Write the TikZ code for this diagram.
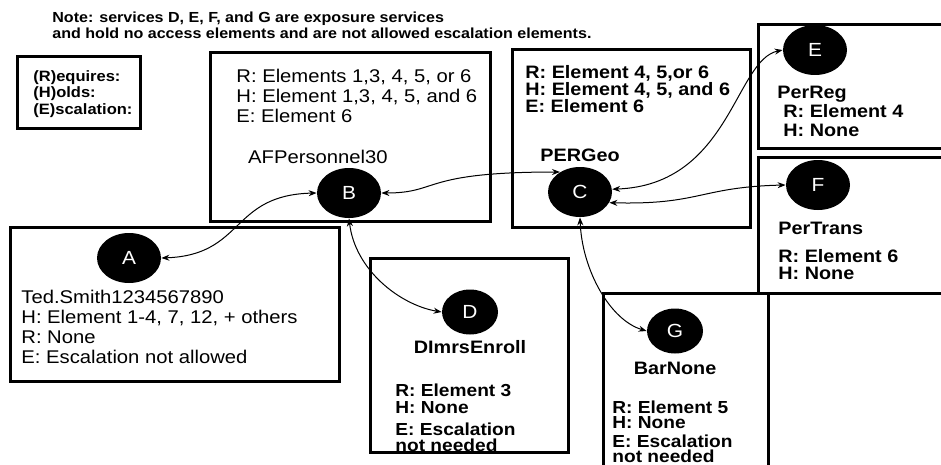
\documentclass[tikz,border=0pt]{standalone}
\usepackage{fontspec}
\setmainfont{Liberation Sans}[FakeStretch=1.1]
\usetikzlibrary{shapes.geometric,arrows.meta}
\begin{document}
\begin{tikzpicture}[x=.5pt,y=-.5pt,
  box/.style={line width=1.5pt},
  svc/.style={ellipse,fill=black,text=white,inner sep=0pt,minimum width=32pt,minimum height=25pt,font=\fontsize{9.5}{10}\selectfont},
  svcsmall/.style={svc,minimum width=28pt,minimum height=22.5pt},
  link/.style={<->,>={Stealth[length=4pt,width=3pt]},line width=.5pt},
  txt/.style={anchor=north west,inner sep=0pt,align=left,font=\fontsize{9.2}{9.9}\selectfont},
  btxt/.style={anchor=north west,inner sep=0pt,align=left,font=\bfseries\fontsize{9}{8.6}\selectfont},
  cname/.style={inner sep=0pt,font=\bfseries\fontsize{9}{10}\selectfont}]
\path[use as bounding box] (0,0) rectangle (941,465);
\begin{scope}
\clip (0,0) rectangle (941,465);
\draw[box] (17,57) rectangle (140,128);
\draw[box] (210,53) rectangle (490,221);
\draw[box] (512,50) rectangle (750,227);
\draw[box] (758,25) rectangle (950,148);
\draw[box] (758,157) rectangle (950,293);
\draw[box] (10,227) rectangle (339,381);
\draw[box] (370,258) rectangle (568,452);
\draw[box] (603,293) rectangle (768,480);
\end{scope}
\node[btxt,font=\bfseries\fontsize{7.3}{8}\selectfont] (note) at (52,12) {Note: services D, E, F, and G are exposure services\\and hold no access elements and are not allowed escalation elements.};
\node[btxt,font=\bfseries\fontsize{7.5}{8.3}\selectfont] (legend) at (33,70) {(R)equires:\\(H)olds:\\(E)scalation:};
\node[svc] (A) at (129,258) {A};
\node[svc] (B) at (349,193) {B};
\node[svc] (C) at (580,192) {C};
\node[svcsmall] (D) at (470,312) {D};
\node[svc] (E) at (815,50) {E};
\node[svc] (F) at (818,185) {F};
\node[svcsmall] (G) at (675,331) {G};
\node[txt] (Btext) at (236,69) {R: Elements 1,3, 4, 5, or 6\\H: Element 1,3, 4, 5, and 6\\E: Element 6};
\node[txt,anchor=center] (Bname) at (318,157) {AFPersonnel30};
\node[btxt] (Ctext) at (525,65) {R: Element 4, 5,or 6\\H: Element 4, 5, and 6\\E: Element 6};
\node[cname] (Cname) at (580,155) {PERGeo};
\node[btxt] (Ename) at (777,86) {PerReg};
\node[btxt,font=\bfseries\fontsize{9}{9.3}\selectfont] (Etext) at (783,104) {R: Element 4\\H: None};
\node[btxt] (Fname) at (778,222) {PerTrans};
\node[btxt] (Ftext) at (778,249) {R: Element 6\\H: None};
\node[txt] (Atext) at (21,290) {Ted.Smith1234567890\\H: Element 1-4, 7, 12, + others\\R: None\\E: Escalation not allowed};
\node[cname] (Dname) at (470,347) {DImrsEnroll};
\node[btxt,font=\bfseries\fontsize{8.7}{8.6}\selectfont] (Dtext) at (395,383) {R: Element 3\\H: None\\[2.5pt]E: Escalation\\[-.8pt]not needed};
\node[cname] (Gname) at (675,368) {BarNone};
\node[btxt,font=\bfseries\fontsize{8.7}{8}\selectfont] (Gtext) at (612,400) {R: Element 5\\[-.3pt]H: None\\[1.5pt]E: Escalation\\[-.3pt]not needed};
\draw[link] (A.east) .. controls (245,255) and (230,195) .. (B.west);
\draw[link] (B.east) .. controls (440,193) and (420,172) .. (C.135);
\draw[link] (B.south) .. controls (355,270) and (400,305) .. (D.west);
\draw[link] (C.south) .. controls (582,270) and (610,320) .. (G.west);
\draw[link] (C.5) .. controls (730,185) and (735,60) .. (E.west);
\draw[link] (C.-20) .. controls (700,205) and (700,187) .. (F.west);
\end{tikzpicture}
\end{document}
